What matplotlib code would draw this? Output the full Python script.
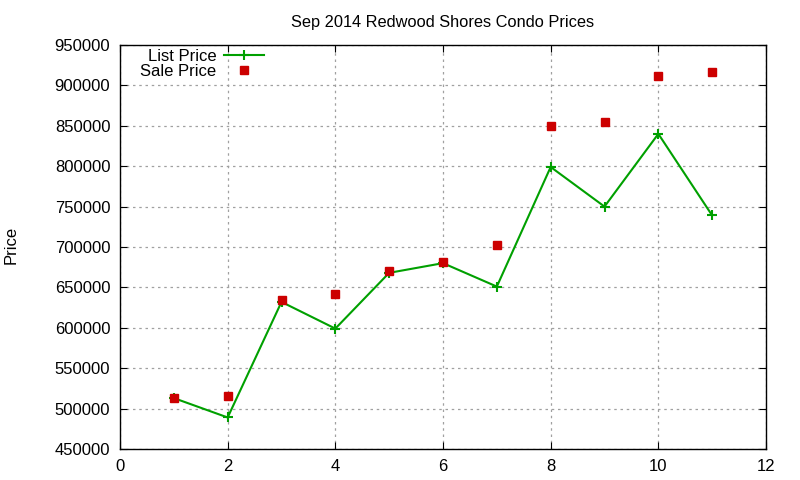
import matplotlib
matplotlib.use("Agg")
import matplotlib.pyplot as plt

plt.rcParams['font.family'] = ['Liberation Sans', 'DejaVu Sans']

# values
months = [1, 2, 3, 4, 5, 6, 7, 8, 9, 10, 11]
list_price = [513000, 489000, 632000, 599000, 668000, 680000, 651000, 799000, 750000, 840000, 739000]
sale_price = [513000, 516000, 635000, 642000, 670000, 681000, 703000, 850000, 855000, 911000, 916000]

fig = plt.figure(figsize=(8, 4.8), dpi=100)
ax = fig.add_axes([0.15, 0.0646, 0.8075, 0.8417])

ax.plot(months, list_price, color='#00a000', lw=1.5, marker='+', ms=6.5, mew=1.5, label='List Price')
ax.plot(months, sale_price, ls='none', color='#cc0000', marker='s', ms=6, label='Sale Price')

ax.set_xlim(0, 12)
ax.set_ylim(450000, 950000)
ax.set_xticks(range(0, 13, 2))
ax.set_yticks(range(450000, 950001, 50000))
ax.tick_params(direction='in', top=True, right=True, labelsize=12, length=5, pad=7)
ax.grid(True, color='#a0a0a0', ls=(0, (2, 3)), lw=0.9)
for s in ax.spines.values():
    s.set_linewidth(1)

ax.set_title('Sep 2014 Redwood Shores Condo Prices', fontsize=11.8, pad=13)
fig.text(0.005, 0.49, 'Price', rotation=90, fontsize=12, va='center')

ax.legend(loc='upper left', bbox_to_anchor=(0.031, 0.99), frameon=False, markerfirst=False,
          fontsize=12, handlelength=2.4, handletextpad=0.5, labelspacing=0.0,
          borderaxespad=0, borderpad=0)
leg = ax.get_legend()
for t in leg.get_texts():
    t.set_ha('right')

fig.savefig('out.png')
